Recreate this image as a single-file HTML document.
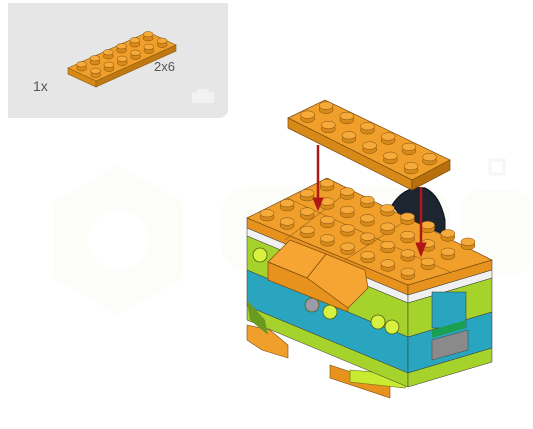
<!DOCTYPE html>
<html><head><meta charset="utf-8"><style>
html,body{margin:0;padding:0;background:#fff;}
svg{display:block;font-family:"Liberation Sans",sans-serif;}
</style></head><body>
<svg id="s" width="533" height="429" viewBox="0 0 533 429">
<g fill="#fcfcf8">
<polygon points="118,165 183,202 183,278 118,315 53,278 53,202"/>
<circle cx="118" cy="240" r="30" fill="#fff"/>
<rect x="220" y="187" width="230" height="85" rx="30"/>
<rect x="460" y="190" width="73" height="85" rx="20"/>
<rect x="490" y="160" width="14" height="14" fill="none" stroke="#f6f6f2" stroke-width="3"/>
</g>
<g>
<path d="M8,3 H228 V108 Q228,118 218,118 H8 Z" fill="#e6e6e6"/>
<polygon points="68,68 148,32 176,45 96,81" fill="#f0a02a" stroke="#8a5a10" stroke-width="0.6"/>
<polygon points="68,68 96,81 96,87 68,74" fill="#d88a18" stroke="#8a5a10" stroke-width="0.6"/>
<polygon points="96,81 176,45 176,51 96,87" fill="#c07812" stroke="#8a5a10" stroke-width="0.6"/>
<g id="smallstuds"></g>
<text x="33" y="91" font-size="14" fill="#555">1x</text>
<text x="154" y="71" font-size="13" fill="#555">2x6</text>
<rect x="192" y="92" width="22" height="11" rx="2" fill="#f2f2f2"/>
<rect x="197" y="89" width="12" height="4" rx="1" fill="#f2f2f2"/>
</g>
<g id="model">
<path d="M392,205 Q405,185 425,188 Q440,195 445,220 L445,235 L400,215 Z" fill="#1d2530" stroke="#0a0f15"/>
<polygon points="247,325 270,330 288,345 288,358 262,350 247,340" fill="#f0a02a" stroke="#7a4a10" stroke-width="0.6"/>
<polygon points="330,365 390,385 390,398 330,378" fill="#e8921e" stroke="#7a4a10" stroke-width="0.6"/>
<polygon points="350,370 410,375 405,388 350,382" fill="#c8ea30" stroke="#607010" stroke-width="0.6"/>
<g id="faces"></g>
<g id="bigstuds"></g>
<g stroke="#7a4a10" stroke-width="0.7">
<polygon points="268,262 290,240 326,254 307,278" fill="#f6a532"/>
<polygon points="307,278 326,254 365,270 368,288 348,308" fill="#f6a532"/>
<polygon points="268,262 307,278 348,308 348,312 268,280" fill="#e8921e"/>
</g>
<g stroke="#7a4a10" stroke-width="0.7">
<polygon points="288,118 325,100 450,160 412,180" fill="#f0a02a"/>
<polygon points="288,118 412,180 412,190 288,128" fill="#d88a18"/>
<polygon points="412,180 450,160 450,170 412,190" fill="#b8700e"/>
</g>
<g id="platestuds"></g>
<g fill="#b01818" stroke="#b01818">
<line x1="318" y1="145" x2="318" y2="200" stroke-width="2.5"/>
<polygon points="313,198 323,198 318,210"/>
<line x1="421" y1="187" x2="421" y2="245" stroke-width="2.5"/>
<polygon points="416,243 426,243 421,256"/>
</g>
</g>
</svg>
<script>
const NS="http://www.w3.org/2000/svg";
function mk(p,t,a){const e=document.createElementNS(NS,t);for(const k in a)e.setAttribute(k,a[k]);p.appendChild(e);return e;}
function stud(g,x,y,r){
 mk(g,'rect',{x:x-r,y:y-4,width:2*r,height:4,fill:'#d88a18'});
 mk(g,'ellipse',{cx:x,cy:y,rx:r,ry:r*0.55,fill:'#d88a18',stroke:'#7a4a10','stroke-width':0.5});
 mk(g,'ellipse',{cx:x,cy:y-4,rx:r,ry:r*0.55,fill:'#f6aa3a',stroke:'#7a4a10','stroke-width':0.5});
}
let g=document.getElementById('smallstuds');
for(let i=0;i<6;i++)for(let j=0;j<2;j++){
 stud(g,68+(i+0.5)*13.3+(j+0.5)*14, 68-(i+0.5)*6+(j+0.5)*6.5, 5);
}
const f=document.getElementById('faces');
const L=[247,218],F=[408,285],R=[492,260],T=[327,178];
function band(a,b,o1,o2,col){
 mk(f,'polygon',{points:`${a[0]},${a[1]+o1} ${b[0]},${b[1]+o1} ${b[0]},${b[1]+o2} ${a[0]},${a[1]+o2}`,fill:col,stroke:'#333','stroke-width':0.5});
}
const layers=[[0,10,'#e8921e'],[10,18,'#f0f0f0'],[18,52,'#a6d22c'],[52,88,'#2aa5c0'],[88,102,'#a6d22c']];
layers.forEach(l=>{band(L,F,l[0],l[1],l[2]);band(F,R,l[0],l[1],l[2]);});
mk(f,'rect',{x:432,y:292,width:34,height:36,fill:'#2aa5c0',stroke:'#333','stroke-width':0.5});
mk(f,'polygon',{points:'432,330 466,320 466,328 432,338',fill:'#1aa050'});
mk(f,'polygon',{points:'432,340 468,330 468,350 432,360',fill:'#8a8a8a',stroke:'#444','stroke-width':0.5});
[[260,255],[312,305],[330,312],[378,322],[392,327]].forEach((p,i)=>{
 mk(f,'circle',{cx:p[0],cy:p[1],r:7,fill:i==1?'#9a9aa8':'#d8f040',stroke:'#506010','stroke-width':0.8});
});
mk(f,'polygon',{points:'247,300 265,320 268,335 250,320',fill:'#6a9a20'});
mk(f,'polygon',{points:`${L[0]},${L[1]} ${T[0]},${T[1]} ${R[0]},${R[1]} ${F[0]},${F[1]}`,fill:'#f0a02a',stroke:'#7a4a10','stroke-width':0.7});
mk(f,'line',{x1:287,y1:198,x2:450,y2:272,stroke:'#9a6010','stroke-width':0.6});
mk(f,'line',{x1:350,y1:190,x2:285,y2:240,stroke:'#9a6010','stroke-width':0.6});
mk(f,'line',{x1:410,y1:218,x2:345,y2:260,stroke:'#9a6010','stroke-width':0.6});
const bs=document.getElementById('bigstuds');
for(let i=0;i<8;i++)for(let j=0;j<4;j++){
 const x=L[0]+(i+0.5)*(F[0]-L[0])/8+(j+0.5)*(T[0]-L[0])/4;
 const y=L[1]+(i+0.5)*(F[1]-L[1])/8+(j+0.5)*(T[1]-L[1])/4;
 stud(bs,x,y,7);
}
const ps=document.getElementById('platestuds');
for(let i=0;i<6;i++)for(let j=0;j<2;j++){
 stud(ps,288+(i+0.5)*20.7+(j+0.5)*18.5, 118+(i+0.5)*10.3-(j+0.5)*9, 7);
}
</script>
</body></html>
